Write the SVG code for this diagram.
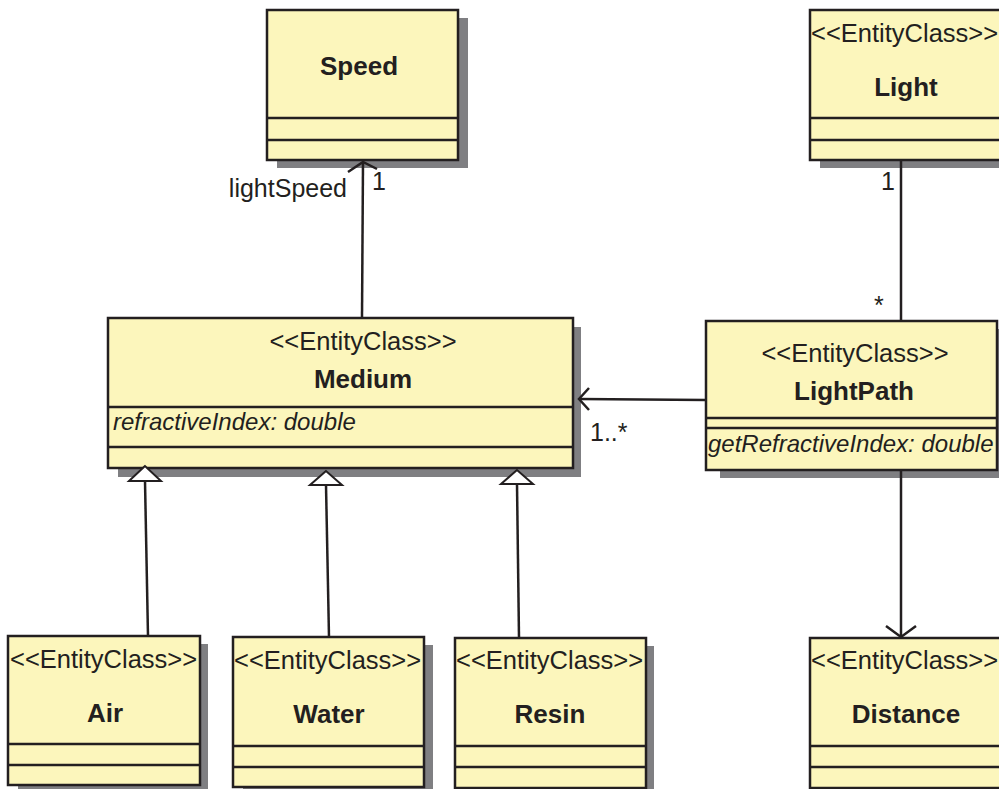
<svg xmlns="http://www.w3.org/2000/svg" width="999" height="789" viewBox="0 0 999 789">
<style>
.sh{fill:#7f7f82}
.bx{fill:#fcf6bc;stroke:#231f20;stroke-width:2.5}
.dv{stroke:#231f20;stroke-width:2.5}
.st{font-family:"Liberation Sans",Arial,sans-serif;font-size:25.5px;fill:#231f20}
.nm{font-family:"Liberation Sans",Arial,sans-serif;font-size:26px;font-weight:bold;fill:#231f20}
.at{font-family:"Liberation Sans",Arial,sans-serif;font-size:24px;font-style:italic;fill:#231f20}
.lb{font-family:"Liberation Sans",Arial,sans-serif;font-size:25px;fill:#231f20}
.ln{stroke:#231f20;stroke-width:2.5;fill:none}
.tri{fill:#ffffff;stroke:#231f20;stroke-width:2}
</style>
<rect width="999" height="789" fill="#ffffff"/>
<g id="Speed">
<rect class="sh" x="277" y="18" width="191" height="150"/>
<rect class="bx" x="267" y="10" width="191" height="150"/>
<line class="dv" x1="267" y1="118" x2="458" y2="118"/>
<line class="dv" x1="267" y1="140" x2="458" y2="140"/>
<text class="nm" x="359" y="75" text-anchor="middle">Speed</text>
</g>
<g id="Light">
<rect class="sh" x="820" y="18" width="192" height="150"/>
<rect class="bx" x="810" y="10" width="192" height="150"/>
<line class="dv" x1="810" y1="118" x2="1002" y2="118"/>
<line class="dv" x1="810" y1="140" x2="1002" y2="140"/>
<text class="st" x="811" y="42">&lt;&lt;EntityClass&gt;&gt;</text>
<text class="nm" x="906" y="96" text-anchor="middle">Light</text>
</g>
<g id="Medium">
<rect class="sh" x="118" y="327" width="463" height="150"/>
<rect class="bx" x="108" y="318" width="465" height="150"/>
<line class="dv" x1="108" y1="407" x2="573" y2="407"/>
<line class="dv" x1="108" y1="447" x2="573" y2="447"/>
<text class="st" x="363" y="350" text-anchor="middle">&lt;&lt;EntityClass&gt;&gt;</text>
<text class="nm" x="363" y="388" text-anchor="middle">Medium</text>
<text class="at" x="113" y="430">refractiveIndex: double</text>
</g>
<g id="LightPath">
<rect class="sh" x="720" y="329" width="290" height="149"/>
<rect class="bx" x="706" y="321" width="291" height="149"/>
<line class="dv" x1="706" y1="418" x2="997" y2="418"/>
<line class="dv" x1="706" y1="428" x2="997" y2="428"/>
<text class="st" x="855" y="362" text-anchor="middle">&lt;&lt;EntityClass&gt;&gt;</text>
<text class="nm" x="854" y="400" text-anchor="middle">LightPath</text>
<text class="at" x="708" y="452">getRefractiveIndex: double</text>
</g>
<g id="Air">
<rect class="sh" x="18" y="644" width="190" height="150"/>
<rect class="bx" x="8" y="636" width="192" height="149"/>
<line class="dv" x1="8" y1="744" x2="200" y2="744"/>
<line class="dv" x1="8" y1="765" x2="200" y2="765"/>
<text class="st" x="10" y="668">&lt;&lt;EntityClass&gt;&gt;</text>
<text class="nm" x="105" y="722" text-anchor="middle">Air</text>
</g>
<g id="Water">
<rect class="sh" x="243" y="645" width="190" height="150"/>
<rect class="bx" x="233" y="637" width="191" height="150"/>
<line class="dv" x1="233" y1="746" x2="424" y2="746"/>
<line class="dv" x1="233" y1="767" x2="424" y2="767"/>
<text class="st" x="234" y="669">&lt;&lt;EntityClass&gt;&gt;</text>
<text class="nm" x="329" y="723" text-anchor="middle">Water</text>
</g>
<g id="Resin">
<rect class="sh" x="465" y="646" width="189" height="150"/>
<rect class="bx" x="455" y="638" width="191" height="150"/>
<line class="dv" x1="455" y1="746" x2="646" y2="746"/>
<line class="dv" x1="455" y1="767" x2="646" y2="767"/>
<text class="st" x="456" y="669">&lt;&lt;EntityClass&gt;&gt;</text>
<text class="nm" x="550" y="723" text-anchor="middle">Resin</text>
</g>
<g id="Distance">
<rect class="sh" x="820" y="646" width="192" height="150"/>
<rect class="bx" x="810" y="638" width="192" height="150"/>
<line class="dv" x1="810" y1="746" x2="1002" y2="746"/>
<line class="dv" x1="810" y1="767" x2="1002" y2="767"/>
<text class="st" x="811" y="669">&lt;&lt;EntityClass&gt;&gt;</text>
<text class="nm" x="906" y="723" text-anchor="middle">Distance</text>
</g>
<g id="connectors">
<line class="ln" x1="362" y1="318" x2="363" y2="162"/>
<polyline class="ln" points="348,172 363,162 377,169"/>
<text class="lb" x="347" y="197" text-anchor="end">lightSpeed</text>
<text class="lb" x="372" y="190">1</text>
<line class="ln" x1="901" y1="160" x2="901" y2="321"/>
<text class="lb" x="881" y="190">1</text>
<text class="lb" x="874" y="314">*</text>
<line class="ln" x1="706" y1="400" x2="579" y2="399"/>
<polyline class="ln" points="589,388 579,399 589,410"/>
<text class="lb" x="590" y="441">1..*</text>
<line class="ln" x1="901" y1="470" x2="901" y2="637"/>
<polyline class="ln" points="886,626 901,637 916,626"/>
<line class="ln" x1="148" y1="636" x2="145" y2="481"/>
<polygon class="tri" points="145,466 129,481 161,481"/>
<line class="ln" x1="329" y1="637" x2="326" y2="485"/>
<polygon class="tri" points="326,471 310,485 342,485"/>
<line class="ln" x1="519" y1="638" x2="517" y2="484"/>
<polygon class="tri" points="517,470 501,484 533,484"/>
</g>
</svg>
